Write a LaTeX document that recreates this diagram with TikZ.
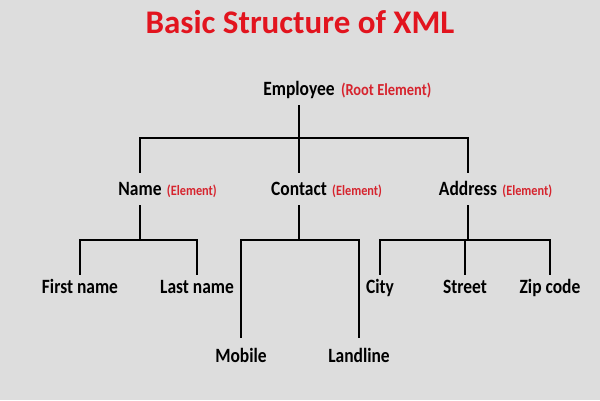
\documentclass[tikz,border=0pt]{standalone}
\usepackage{fontspec}
\setmainfont{Carlito}
\newfontfamily\slidefont{Carlito}[FakeStretch=0.86]
\usetikzlibrary{positioning}
\definecolor{slidegray}{RGB}{221,221,221}
\definecolor{titlered}{RGB}{226,20,30}
\definecolor{tagred}{RGB}{214,36,46}

\begin{document}
\begin{tikzpicture}[x=1pt, y=-1pt,
    elembox/.style={font=\slidefont\bfseries\fontsize{20.3}{22}\selectfont, anchor=base,
                    inner xsep=1pt, inner ysep=6pt, text depth=4pt, text height=12pt},
    groupbox/.style={elembox, text height=16pt},
    deepbox/.style={elembox, text height=18pt},
    tag/.style={font=\slidefont\bfseries\fontsize{#1}{#1}\selectfont, text=tagred, inner xsep=1pt},
    tag/.default=14.3,
    branch/.style={line width=2pt}]
  % slide background and the fixed page size
  \fill[slidegray] (0,0) rectangle (600,400);
  \useasboundingbox (0,0) rectangle (600,400);

  \node[font=\bfseries\fontsize{33}{38}\selectfont, text=titlered, anchor=base] (title)
    at (300,33.5) {Basic Structure of XML};

  % root element
  \node[elembox] (employee) at (299,95) {Employee};
  \node[tag=16.8, base right=4pt of employee] (roottag) {(Root Element)};

  % child elements: baseline at y = 195
  \node[groupbox] (name) at (140,195) {Name};
  \node[tag, base right=3pt of name] (nametag) {(Element)};
  \node[groupbox] (contact) at (299,195) {Contact};
  \node[tag, base right=3pt of contact] (contacttag) {(Element)};
  \node[groupbox] (address) at (468,195) {Address};
  \node[tag, base right=3pt of address] (addresstag) {(Element)};

  % leaves
  \node[elembox] (first) at (80,293) {First name};
  \node[elembox] (last) at (197,293) {Last name};
  \node[elembox] (city) at (380,293) {City};
  \node[elembox] (street) at (465,293) {Street};
  \node[elembox] (zip) at (550,293) {Zip code};
  \node[deepbox] (mobile) at (241,362) {Mobile};
  \node[deepbox] (landline) at (359,362) {Landline};

  % the two bus heights
  \coordinate (rootbus) at (0,138);
  \coordinate (leafbus) at (0,240);

  % root to children
  \draw[branch] (employee.south) -- (employee.south |- rootbus);
  \draw[branch] (name.north) |- (address.north |- rootbus) -- (address.north);
  \draw[branch] (contact.north) -- (contact.north |- rootbus);

  % children to leaves
  \draw[branch] (name.south) -- (name.south |- leafbus);
  \draw[branch] (first.north) |- (last.north |- leafbus) -- (last.north);
  \draw[branch] (contact.south) -- (contact.south |- leafbus);
  \draw[branch] (mobile.north) |- (landline.north |- leafbus) -- (landline.north);
  \draw[branch] (address.south) -- (address.south |- leafbus);
  \draw[branch] (city.north) |- (zip.north |- leafbus) -- (zip.north);
  \draw[branch] (street.north) -- (street.north |- leafbus);
\end{tikzpicture}
\end{document}
